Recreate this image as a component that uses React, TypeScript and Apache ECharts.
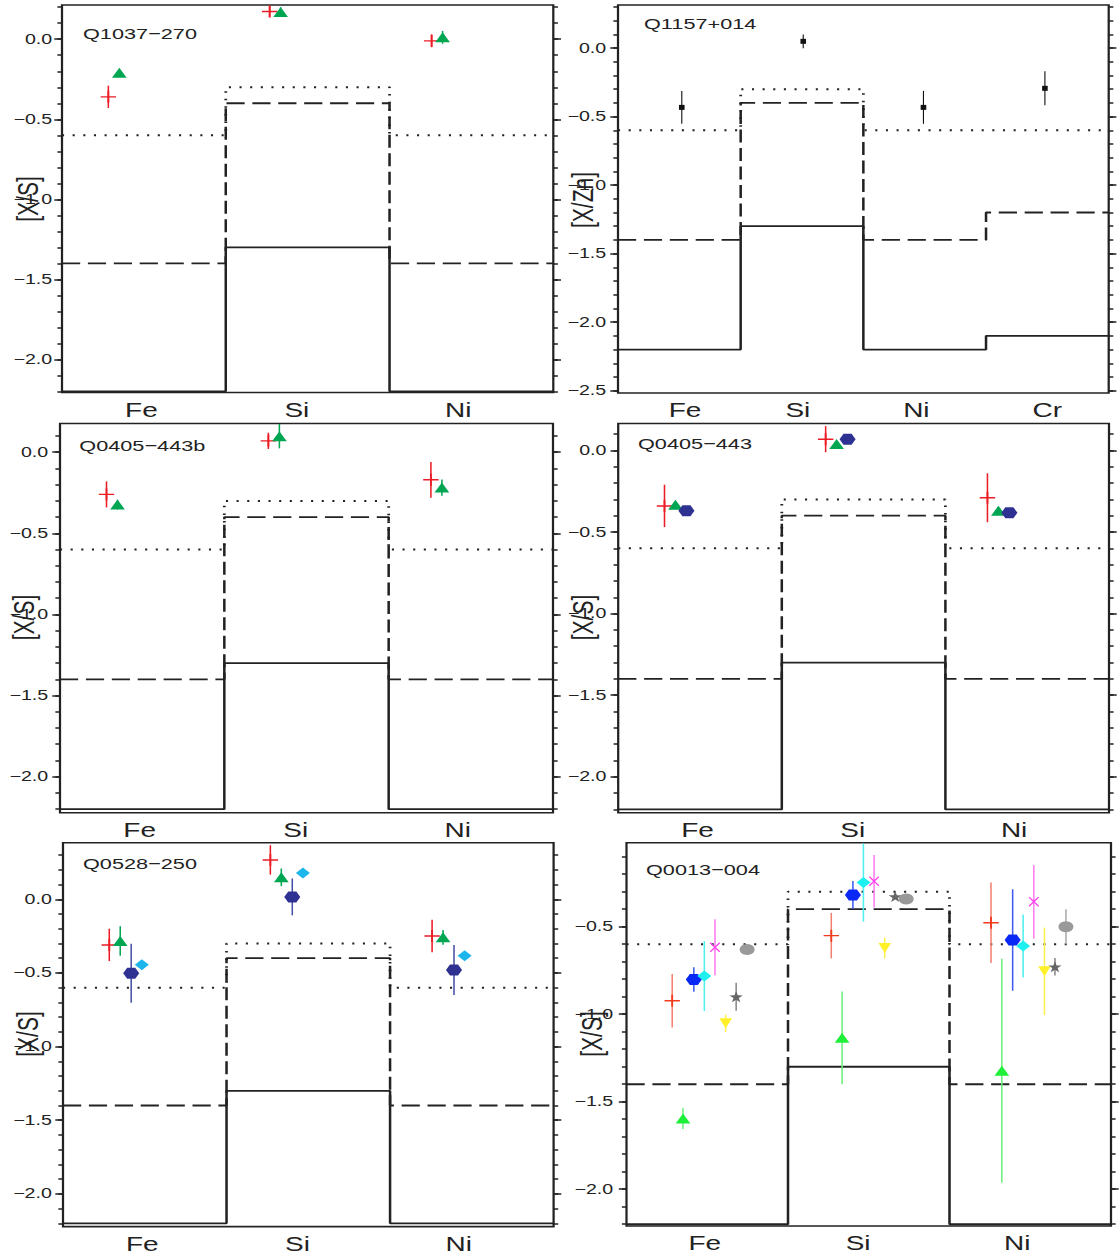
import { useEffect, useRef } from 'react';
import * as echarts from 'echarts';

// The reference figure is horizontally stretched: draw at 800 px and stretch by 1.4.
const SX = 1.4;
const VW = 800;
const VH = 1258;
const FONT = '"Liberation Sans", Arial, Helvetica, sans-serif';
const INK = '#222222';

// ---------- categories ----------
const CATS_3 = ['Fe', 'Si', 'Ni'];
const CATS_4 = ['Fe', 'Si', 'Ni', 'Cr'];

// ---------- model step levels ----------
const SOLID_3 = [-2.2, -1.3, -2.2];
const DASHED_3 = [-1.4, -0.4, -1.4];
const DOTTED_3 = [-0.6, -0.3, -0.6];
const SOLID_4 = [-2.2, -1.3, -2.2, -2.1];
const DASHED_4 = [-1.4, -0.4, -1.4, -1.2];
const DOTTED_4 = [-0.6, -0.3, -0.6, -0.6];

// ---------- tick labels ----------
const TICKS_A = [-2.0, -1.5, -1.0, -0.5, 0.0];
const TICKS_B = [-2.5, -2.0, -1.5, -1.0, -0.5, 0.0];
const TICKS_C = [-2.0, -1.5, -1.0, -0.5];

// ---------- measurements (Fe, Si, Ni[, Cr]) ----------
const Q1037_PLUS = [-0.36, 0.173, -0.01];
const Q1037_PLUS_ERR = [0.07, 0.035, 0.04];
const Q1037_TRI = [-0.21, 0.17, 0.012];
const Q1037_TRI_ERR = [0.0, 0.03, 0.04];

const Q1157_SQ = [-0.433, 0.049, -0.433, -0.294];
const Q1157_SQ_ERR = [0.12, 0.05, 0.12, 0.124];

const Q0405B_PLUS = [-0.26, 0.07, -0.17];
const Q0405B_PLUS_ERR = [0.08, 0.05, 0.11];
const Q0405B_TRI = [-0.323, 0.099, -0.218];
const Q0405B_TRI_ERR = [0.03, 0.075, 0.05];

const Q0405_PLUS = [-0.34, 0.069, -0.29];
const Q0405_PLUS_ERR = [0.13, 0.08, 0.15];
const Q0405_TRI = [-0.333, 0.039, -0.369];
const Q0405_TRI_ERR = [0.0, 0.0, 0.0];
const Q0405_HEX = [-0.37, 0.069, -0.382];
const Q0405_HEX_ERR = [0.0, 0.0, 0.0];

const Q0528_PLUS = [-0.31, 0.267, -0.249];
const Q0528_PLUS_ERR = [0.11, 0.1, 0.11];
const Q0528_TRI = [-0.283, 0.149, -0.258];
const Q0528_TRI_ERR = [0.1, 0.06, 0.05];
const Q0528_HEX = [-0.502, 0.016, -0.48];
const Q0528_HEX_ERR = [0.2, 0.125, 0.17];
const Q0528_DIA = [-0.444, 0.179, -0.383];
const Q0528_DIA_ERR = [0.0, 0.0, 0.0];

const Q0013_PLUS = [-0.923, -0.551, -0.477];
const Q0013_PLUS_ERR = [0.153, 0.13, 0.23];
const Q0013_TRI = [-1.596, -1.135, -1.323];
const Q0013_TRI_ERR = [0.06, 0.265, 0.64];
const Q0013_HEX = [-0.801, -0.319, -0.576];
const Q0013_HEX_ERR = [0.07, 0.08, 0.29];
const Q0013_DIA = [-0.782, -0.248, -0.61];
const Q0013_DIA_ERR = [0.2, 0.223, 0.18];
const Q0013_CROSS = [-0.618, -0.24, -0.357];
const Q0013_CROSS_ERR = [0.16, 0.15, 0.21];
const Q0013_DOWN = [-1.052, -0.622, -0.755];
const Q0013_DOWN_ERR = [0.05, 0.06, 0.25];
const Q0013_STAR = [-0.9, -0.328, -0.729];
const Q0013_STAR_ERR = [0.08, 0.0, 0.05];
const Q0013_CIRC = [-0.63, -0.342, -0.5];
const Q0013_CIRC_ERR = [0.0, 0.0, 0.1];

// ---------- layout: where markers / category labels sit inside the bins ----------
const MARK_CENTERS_3 = [0.515, 1.5, 2.489];
const MARK_CENTERS_4 = [0.52, 1.51, 2.49, 3.48];
const LABEL_POS_3 = [0.485, 1.434, 2.42];
const LABEL_POS_4 = [0.546, 1.466, 2.432, 3.5];

// ---------- styles ----------
const RED = '#ec1c24';
const GREEN = '#00a651';
const NAVY = '#2e3192';
const NAVY_ERR = '#4650a8';
const SKY = '#1cb5ec';
const BLACK = '#111111';

const RED6 = '#f23a1e';
const RED6_ERR = '#f2826f';
const GREEN6 = '#1ef03a';
const GREEN6_ERR = '#6af07a';
const BLUE6 = '#0a28f5';
const BLUE6_ERR = '#3c5af0';
const CYAN6 = '#1ef0f0';
const CYAN6_ERR = '#4ff0f0';
const MAG6 = '#ff3cf0';
const MAG6_ERR = '#ff7cf0';
const YEL6 = '#fff028';
const YEL6_ERR = '#fff050';
const STAR6 = '#666666';
const STAR6_ERR = '#888888';
const CIRC6 = '#999999';
const CIRC6_ERR = '#aaaaaa';

const KIND: Record<string, any> = {
  plus: {
    symbol: 'path://M0,4.4 L4.4,4.4 L4.4,0 L5.6,0 L5.6,4.4 L10,4.4 L10,5.6 L5.6,5.6 L5.6,10 L4.4,10 L4.4,5.6 L0,5.6 Z',
    size: [11, 12], offset: -0.232,
  },
  tri: { symbol: 'triangle', size: [10.5, 10], offset: -0.165 },
  hex: { symbol: 'path://M0,5 L2.5,0.67 L7.5,0.67 L10,5 L7.5,9.33 L2.5,9.33 Z', size: [11.5, 11], offset: -0.098 },
  diamond: { symbol: 'diamond', size: [10, 11], offset: -0.033 },
  cross: {
    symbol: 'path://M0,0.9 L0.9,0 L5,4.1 L9.1,0 L10,0.9 L5.9,5 L10,9.1 L9.1,10 L5,5.9 L0.9,10 L0,9.1 L4.1,5 Z',
    size: [7.5, 10], offset: 0.033,
  },
  down: { symbol: 'triangle', rotate: 180, size: [9, 10], offset: 0.099 },
  star: {
    symbol: 'path://M5,0.3 L6.18,3.68 L9.76,3.76 L6.9,5.92 L7.94,9.35 L5,7.3 L2.06,9.35 L3.1,5.92 L0.24,3.76 L3.82,3.68 Z',
    size: [9.5, 11], offset: 0.164,
  },
  circle: { symbol: 'circle', size: [10.7, 11], offset: 0.232 },
  square: { symbol: 'rect', size: [4, 5], offset: 0 },
};

// ---------- panels (box = real px: left, top, right, bottom) ----------
const PANELS = [
  {
    title: 'Q1037−270', yName: '[X/S]', cats: CATS_3, solid: SOLID_3, dashed: DASHED_3, dotted: DOTTED_3,
    ticks: TICKS_A, yMin: -2.2075, yMax: 0.214, box: [62, 5, 553.3, 392.5], labelMargin: 7,
    centers: MARK_CENTERS_3, labelPos: LABEL_POS_3,
    titlePos: [83, 33.3], namePos: [27.3, 199],
    series: [
      { kind: 'plus', color: RED, err: RED, values: Q1037_PLUS, errors: Q1037_PLUS_ERR },
      { kind: 'tri', color: GREEN, err: GREEN, values: Q1037_TRI, errors: Q1037_TRI_ERR },
    ],
  },
  {
    title: 'Q1157+014', yName: '[X/Zn]', cats: CATS_4, solid: SOLID_4, dashed: DASHED_4, dotted: DOTTED_4,
    ticks: TICKS_B, yMin: -2.517, yMax: 0.314, box: [618, 5, 1108.7, 393], labelMargin: 8.5,
    centers: MARK_CENTERS_4, labelPos: LABEL_POS_4,
    titlePos: [644, 23.3], namePos: [583, 200],
    series: [
      { kind: 'square', color: BLACK, err: BLACK, values: Q1157_SQ, errors: Q1157_SQ_ERR, errWidth: 0.8 },
    ],
  },
  {
    title: 'Q0405−443b', yName: '[X/S]', cats: CATS_3, solid: SOLID_3, dashed: DASHED_3, dotted: DOTTED_3,
    ticks: TICKS_A, yMin: -2.222, yMax: 0.177, box: [60, 423.5, 553, 812.7], labelMargin: 8.5,
    centers: MARK_CENTERS_3, labelPos: LABEL_POS_3,
    titlePos: [79.3, 446], namePos: [24, 617.5],
    series: [
      { kind: 'plus', color: RED, err: RED, values: Q0405B_PLUS, errors: Q0405B_PLUS_ERR },
      { kind: 'tri', color: GREEN, err: GREEN, values: Q0405B_TRI, errors: Q0405B_TRI_ERR },
    ],
  },
  {
    title: 'Q0405−443', yName: '[X/S]', cats: CATS_3, solid: SOLID_3, dashed: DASHED_3, dotted: DOTTED_3,
    ticks: TICKS_A, yMin: -2.22, yMax: 0.165, box: [618.2, 423.5, 1109, 812.7], labelMargin: 8.4,
    centers: MARK_CENTERS_3, labelPos: LABEL_POS_3,
    titlePos: [638, 444], namePos: [583, 617.5],
    series: [
      { kind: 'plus', color: RED, err: RED, values: Q0405_PLUS, errors: Q0405_PLUS_ERR },
      { kind: 'tri', color: GREEN, err: GREEN, values: Q0405_TRI, errors: Q0405_TRI_ERR },
      { kind: 'hex', color: NAVY, err: NAVY_ERR, values: Q0405_HEX, errors: Q0405_HEX_ERR },
    ],
  },
  {
    title: 'Q0528−250', yName: '[X/S]', cats: CATS_3, solid: SOLID_3, dashed: DASHED_3, dotted: DOTTED_3,
    ticks: TICKS_A, yMin: -2.222, yMax: 0.384, box: [63, 842.7, 553.6, 1226.6], labelMargin: 8,
    centers: MARK_CENTERS_3, labelPos: LABEL_POS_3,
    titlePos: [83, 864], namePos: [27.7, 1034],
    series: [
      { kind: 'plus', color: RED, err: RED, values: Q0528_PLUS, errors: Q0528_PLUS_ERR },
      { kind: 'tri', color: GREEN, err: GREEN, values: Q0528_TRI, errors: Q0528_TRI_ERR },
      { kind: 'hex', color: NAVY, err: NAVY_ERR, values: Q0528_HEX, errors: Q0528_HEX_ERR },
      { kind: 'diamond', color: SKY, err: SKY, values: Q0528_DIA, errors: Q0528_DIA_ERR },
    ],
  },
  {
    title: 'Q0013−004', yName: '[X/S]', cats: CATS_3, solid: SOLID_3, dashed: DASHED_3, dotted: DOTTED_3,
    ticks: TICKS_C, yMin: -2.21, yMax: -0.02, box: [626.5, 842.7, 1111, 1226], labelMargin: 9.5,
    centers: MARK_CENTERS_3, labelPos: LABEL_POS_3,
    titlePos: [646, 869.3], namePos: [591.3, 1034],
    series: [
      { kind: 'plus', color: RED6, err: RED6_ERR, values: Q0013_PLUS, errors: Q0013_PLUS_ERR },
      { kind: 'tri', color: GREEN6, err: GREEN6_ERR, values: Q0013_TRI, errors: Q0013_TRI_ERR },
      { kind: 'hex', color: BLUE6, err: BLUE6_ERR, values: Q0013_HEX, errors: Q0013_HEX_ERR },
      { kind: 'diamond', color: CYAN6, err: CYAN6_ERR, values: Q0013_DIA, errors: Q0013_DIA_ERR },
      { kind: 'cross', color: MAG6, err: MAG6_ERR, values: Q0013_CROSS, errors: Q0013_CROSS_ERR },
      { kind: 'down', color: YEL6, err: YEL6_ERR, values: Q0013_DOWN, errors: Q0013_DOWN_ERR },
      { kind: 'star', color: STAR6, err: STAR6_ERR, values: Q0013_STAR, errors: Q0013_STAR_ERR },
      { kind: 'circle', color: CIRC6, err: CIRC6_ERR, values: Q0013_CIRC, errors: Q0013_CIRC_ERR },
    ],
  },
];

const toV = (x: number) => x / SX;

const fmtY = (v: number) => (Math.abs(v) < 1e-9 ? '0.0' : (v < 0 ? '−' : '') + Math.abs(v).toFixed(1));

function minorValues(min: number, max: number) {
  const out: number[] = [];
  for (let k = Math.ceil(min * 10 - 1e-6); k <= Math.floor(max * 10 + 1e-6); k++) out.push(k / 10);
  return out;
}

function stepPoints(levels: number[]) {
  const pts: number[][] = [];
  levels.forEach((v, k) => {
    pts.push([k, v]);
    pts.push([k + 1, v]);
  });
  return pts;
}

function buildOption() {
  const grid: any[] = [];
  const xAxis: any[] = [];
  const yAxis: any[] = [];
  const series: any[] = [];
  const graphic: any[] = [];

  PANELS.forEach((p, i) => {
    const [l, t, r, b] = p.box;
    grid.push({
      left: toV(l), top: t, width: toV(r - l), height: b - t,
      show: true, borderColor: INK, borderWidth: 1.6, backgroundColor: 'transparent',
    });
    xAxis.push({
      gridIndex: i, type: 'value', min: 0, max: p.cats.length,
      axisLine: { show: false }, axisTick: { show: false }, splitLine: { show: false },
      axisLabel: {
        customValues: p.labelPos,
        formatter: (v: number) => p.cats[Math.max(0, Math.min(p.cats.length - 1, Math.round(v - 0.5)))],
        fontSize: 20, fontFamily: FONT, color: INK, margin: 7.5,
      },
    });
    const majors = p.ticks.filter((v) => v >= p.yMin && v <= p.yMax);
    const minors = minorValues(p.yMin, p.yMax);
    const base = { gridIndex: i, type: 'value', min: p.yMin, max: p.yMax, axisLine: { show: false }, splitLine: { show: false } };
    yAxis.push({
      ...base, position: 'left',
      axisTick: { show: true, length: 5.5, customValues: majors, lineStyle: { color: INK, width: 1.5 } },
      axisLabel: { customValues: majors, formatter: fmtY, fontSize: 14, fontFamily: FONT, color: INK, margin: p.labelMargin },
    });
    yAxis.push({
      ...base, position: 'left',
      axisTick: { show: true, length: 3.3, customValues: minors, lineStyle: { color: INK, width: 1.5 } },
      axisLabel: { show: false },
    });
    yAxis.push({
      ...base, position: 'right',
      axisTick: { show: true, length: 5.5, customValues: majors, lineStyle: { color: INK, width: 1.5 } },
      axisLabel: { show: false },
    });
    yAxis.push({
      ...base, position: 'right',
      axisTick: { show: true, length: 3.3, customValues: minors, lineStyle: { color: INK, width: 1.5 } },
      axisLabel: { show: false },
    });

    const yi = i * 4;
    const lineBase = { type: 'line', xAxisIndex: i, yAxisIndex: yi, showSymbol: false, symbol: 'none', silent: true, z: 1 };
    series.push({ ...lineBase, data: stepPoints(p.solid), lineStyle: { color: INK, width: 1.8, type: 'solid' } });
    series.push({ ...lineBase, data: stepPoints(p.dashed), lineStyle: { color: INK, width: 1.8, type: [13, 5.5] } });
    series.push({ ...lineBase, data: stepPoints(p.dotted), lineStyle: { color: INK, width: 2, type: [1.5, 6.1] } });

    p.series.forEach((s: any) => {
      const kind = KIND[s.kind];
      const errColor = s.err;
      const errWidth = s.errWidth || 1.1;
      const xs = s.values.map((_: number, k: number) => p.centers[k] + kind.offset);
      series.push({
        type: 'custom', xAxisIndex: i, yAxisIndex: yi, silent: true, z: 3,
        data: s.values.map((v: number, k: number) => [xs[k], v, s.errors[k]]),
        renderItem: (_params: any, api: any) => {
          const x = api.value(0);
          const y = api.value(1);
          const e = api.value(2);
          if (!e) return { type: 'group', children: [] };
          const p1 = api.coord([x, y - e]);
          const p2 = api.coord([x, y + e]);
          return {
            type: 'line',
            shape: { x1: p1[0], y1: p1[1], x2: p2[0], y2: p2[1] },
            style: { stroke: errColor, lineWidth: errWidth },
          };
        },
      });
      series.push({
        type: 'scatter', xAxisIndex: i, yAxisIndex: yi, silent: true, z: 4,
        symbol: kind.symbol, symbolSize: kind.size, symbolRotate: kind.rotate || 0,
        itemStyle: { color: s.color, opacity: 1 },
        data: s.values.map((v: number, k: number) => [xs[k], v]),
      });
    });

    graphic.push({
      type: 'text', x: toV(p.titlePos[0]), y: p.titlePos[1], silent: true,
      style: { text: p.title, font: `15.5px ${FONT}`, fill: INK, align: 'left', verticalAlign: 'middle' },
    });
    graphic.push({
      type: 'text', x: toV(p.namePos[0]), y: p.namePos[1], rotation: Math.PI / 2, silent: true,
      style: { text: p.yName, font: `21px ${FONT}`, fill: INK, align: 'center', verticalAlign: 'middle' },
    });
  });

  return {
    animation: false,
    backgroundColor: '#ffffff',
    textStyle: { fontFamily: FONT },
    grid, xAxis, yAxis, series, graphic,
  };
}

export default function App() {
  const ref = useRef<HTMLDivElement>(null);
  useEffect(() => {
    if (!ref.current) return;
    const chart = echarts.init(ref.current, null, { renderer: 'svg' });
    chart.setOption(buildOption() as any);
    return () => chart.dispose();
  }, []);
  return (
    <div style={{ position: 'absolute', left: 0, top: 0, width: 1120, height: 1258, overflow: 'hidden', background: '#fff' }}>
      <div
        ref={ref}
        style={{ width: VW, height: VH, transform: `scaleX(${SX})`, transformOrigin: '0 0' }}
      />
    </div>
  );
}
